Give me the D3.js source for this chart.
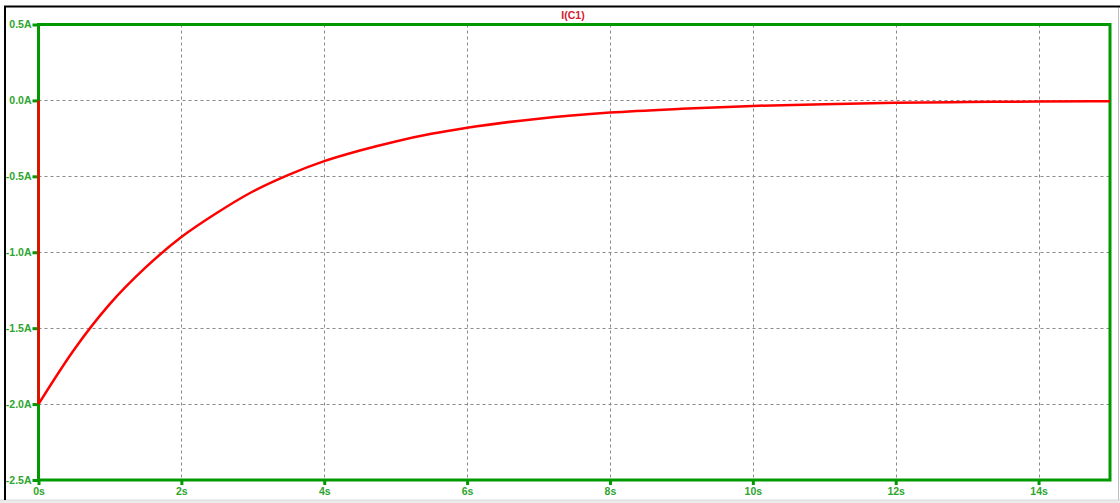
<!DOCTYPE html>
<html><head><meta charset="utf-8">
<script src="https://cdn.jsdelivr.net/npm/d3@7/dist/d3.min.js"></script>
<style>
html,body{margin:0;padding:0;background:#fff;}
svg{display:block;}
</style></head>
<body>
<script>
// Data
const title = "I(C1)";
const timeS = [0, 0.5, 1, 1.5, 2, 2.5, 3, 3.5, 4, 4.5, 5, 5.5, 6, 7, 8, 9, 10, 11, 12, 13, 14, 15];
const currentA = [-2.00, -1.64, -1.34, -1.10, -0.90, -0.74, -0.60, -0.49, -0.40, -0.33, -0.27, -0.22, -0.18, -0.12, -0.08, -0.055, -0.036, -0.025, -0.016, -0.011, -0.007, -0.005];
const stepT = [0, 0];
const stepA = [0, -2.0];
const xTicks = [0, 2, 4, 6, 8, 10, 12, 14];
const xTickLabels = ["0s", "2s", "4s", "6s", "8s", "10s", "12s", "14s"];
const yTicks = [0.5, 0.0, -0.5, -1.0, -1.5, -2.0, -2.5];
const yTickLabels = ["0.5A", "0.0A", "-0.5A", "-1.0A", "-1.5A", "-2.0A", "-2.5A"];

const W = 1120, H = 503;
const m = {left: 38.5, top: 24.5, right: 1110, bottom: 480};
const svg = d3.select("body").append("svg").attr("width", W).attr("height", H);

// outer window frame
svg.append("rect").attr("x", 0).attr("y", 500).attr("width", W).attr("height", 3).attr("fill", "#ececec");
svg.append("line").attr("x1", 0).attr("x2", W).attr("y1", 500).attr("y2", 500).attr("stroke", "#d8d8d8");
svg.append("line").attr("x1", 1118.5).attr("x2", 1118.5).attr("y1", 6).attr("y2", 500).attr("stroke", "#bdbdbd");
svg.append("line").attr("x1", 4).attr("x2", W).attr("y1", 6.5).attr("y2", 6.5).attr("stroke", "#000").attr("stroke-width", 2);
svg.append("line").attr("x1", 5).attr("x2", 5).attr("y1", 6).attr("y2", 500).attr("stroke", "#000").attr("stroke-width", 2);

const x = d3.scaleLinear().domain([0, 15]).range([m.left, m.right]);
const y = d3.scaleLinear().domain([-2.5, 0.5]).range([m.bottom, m.top]);

const green = "#009900";
const textGreen = "#2ea52e";

// grid
const grid = svg.append("g").attr("stroke", "#8a8a8a").attr("stroke-dasharray", "3,3").attr("stroke-width", 1);
xTicks.filter(t => t > 0).forEach(t => {
  grid.append("line").attr("x1", Math.round(x(t)) + 0.5).attr("x2", Math.round(x(t)) + 0.5)
    .attr("y1", m.top).attr("y2", m.bottom);
});
yTicks.filter(t => t < 0.5 && t > -2.5).forEach(t => {
  grid.append("line").attr("y1", Math.round(y(t)) + 0.5).attr("y2", Math.round(y(t)) + 0.5)
    .attr("x1", m.left).attr("x2", m.right);
});

// axes via d3
const xAxis = d3.axisBottom(x).tickValues(xTicks).tickFormat((d, i) => xTickLabels[i]).tickSize(5).tickPadding(3);
const yAxis = d3.axisLeft(y).tickValues(yTicks).tickFormat((d, i) => yTickLabels[i]).tickSize(6).tickPadding(1);
const gx = svg.append("g").attr("transform", `translate(0,${m.bottom})`).call(xAxis);
const gy = svg.append("g").attr("transform", `translate(${m.left},0)`).call(yAxis);
[gx, gy].forEach(g => {
  g.select(".domain").remove();
  g.selectAll(".tick line").attr("stroke", green).attr("stroke-width", 3);
  g.selectAll(".tick text").attr("fill", textGreen).attr("font-family", "Liberation Sans, Arial, sans-serif")
    .attr("font-size", 10.5).attr("font-weight", "bold");
});

// plot frame
svg.append("rect").attr("x", m.left).attr("y", m.top).attr("width", m.right - m.left).attr("height", m.bottom - m.top)
  .attr("fill", "none").attr("stroke", green).attr("stroke-width", 3);

// data lines
const line = d3.line().x(d => x(d[0])).y(d => y(d[1]));
svg.append("path").datum(stepT.map((t, i) => [t, stepA[i]]))
  .attr("d", line).attr("fill", "none").attr("stroke", "#ff0000").attr("stroke-width", 2.5);
svg.append("path").datum(timeS.map((t, i) => [t, currentA[i]]))
  .attr("d", line.curve(d3.curveMonotoneX)).attr("fill", "none").attr("stroke", "#ff0000").attr("stroke-width", 2.5);

// title
svg.append("text").attr("x", 573).attr("y", 19).attr("text-anchor", "middle")
  .attr("fill", "#d2202e").attr("font-family", "Liberation Sans, Arial, sans-serif")
  .attr("font-size", 10.5).attr("font-weight", "bold").text(title);
</script>
</body></html>
